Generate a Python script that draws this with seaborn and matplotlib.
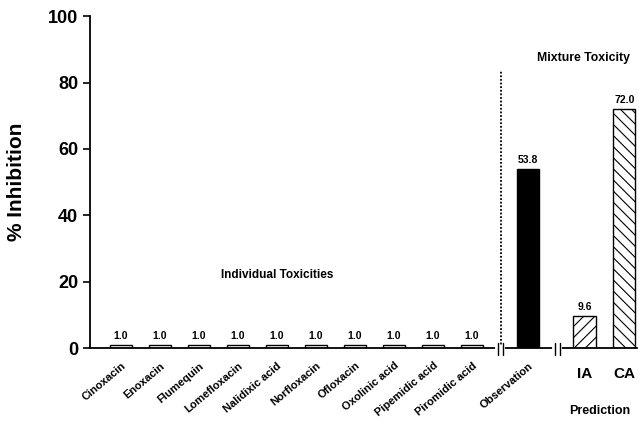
import numpy as np
import pandas as pd
import matplotlib
matplotlib.use("Agg")
import matplotlib.pyplot as plt
import seaborn as sns

sns.set_style("ticks")
plt.rcParams['font.family'] = ['Liberation Sans', 'DejaVu Sans']
plt.rcParams['font.weight'] = 'bold'
plt.rcParams['text.color'] = 'black'
plt.rcParams['axes.labelcolor'] = 'black'
plt.rcParams['xtick.color'] = 'black'
plt.rcParams['ytick.color'] = 'black'
plt.rcParams['axes.edgecolor'] = 'black'
plt.rcParams['hatch.linewidth'] = 0.8

# data
drugs = ['Cinoxacin', 'Enoxacin', 'Flumequin', 'Lomefloxacin', 'Nalidixic acid',
         'Norfloxacin', 'Ofloxacin', 'Oxolinic acid', 'Pipemidic acid', 'Piromidic acid']
drug_values = [1.0] * 10
mixture = ['Observation', 'IA', 'CA']
mixture_values = [53.8, 9.6, 72.0]

names = drugs + mixture
values = drug_values + mixture_values

# layout: unit spacing for drugs, wider gaps around the axis breaks
gap = 1.44
pos = list(np.arange(len(drugs), dtype=float))
pos.append(pos[-1] + gap)           # Observation
pos.append(pos[-1] + gap)           # IA
pos.append(pos[-1] + 1.02)          # CA
df = pd.DataFrame({'pos': pos, 'name': names, 'value': values})

fig = plt.figure(figsize=(6.39, 4.25), dpi=100)
ax = fig.add_axes([0.141, 0.181, 0.856, 0.781])

colors = ['white'] * len(drugs) + ['black', 'white', 'white']
sns.barplot(data=df, x='pos', y='value', hue='name', palette=colors, native_scale=True,
            width=0.57, edgecolor='black', linewidth=1.0, legend=False, ax=ax)

hatches = [''] * len(drugs) + ['', '///', '\\\\\\']
for bar, h in zip(ax.patches, hatches):
    bar.set_hatch(h)

for cont in ax.containers:
    ax.bar_label(cont, fmt='%.1f', padding=3, fontsize=7.5, fontweight='bold')

ax.set_xlim(-0.795, 13.23)
ax.set_ylim(0, 100)
ax.set_yticks([0, 20, 40, 60, 80, 100])
ax.tick_params(axis='y', labelsize=13, width=1.2, length=5)
ax.tick_params(axis='x', length=0, pad=9)
ax.set_ylabel('% Inhibition', fontsize=15, fontweight='bold', labelpad=16)
ax.set_xlabel('')
sns.despine(ax=ax)
ax.spines['left'].set_linewidth(1.3)
ax.spines['bottom'].set_linewidth(1.3)

ax.set_xticks(pos)
ax.set_xticklabels(names)
for i, lab in enumerate(ax.get_xticklabels()):
    if names[i] in ('IA', 'CA'):
        lab.set_fontsize(11)
        lab.set_rotation(0)
        lab.set_y(-0.02)
    else:
        lab.set_fontsize(8)
        lab.set_rotation(40)
        lab.set_ha('right')
        lab.set_va('top')
        lab.set_rotation_mode('anchor')
        lab.set_x(pos[i] + 0.2)

# separator between individual and mixture
sep = pos[len(drugs) - 1] + 0.74
ax.plot([sep, sep], [0, 83.4], ls=(0, (1.0, 1.0)), color='black', lw=1.3)

# axis break marks
for b in [sep - 0.02, pos[len(drugs)] + 0.74]:
    ax.plot([b - 0.07, b + 0.07], [0, 0], transform=ax.get_xaxis_transform(),
            color='white', lw=3, clip_on=False, zorder=5)
    for off in (-0.065, 0.065):
        ax.plot([b + off, b + off], [-0.02, 0.015], transform=ax.get_xaxis_transform(),
                color='black', lw=1.0, clip_on=False, zorder=6)

ax.text(4.0, 22, 'Individual Toxicities', fontsize=8.5, fontweight='bold', ha='center', va='center')
ax.text(11.85, 87.5, 'Mixture Toxicity', fontsize=8.8, fontweight='bold', ha='center', va='center')
ax.text(12.28, -0.19, 'Prediction', fontsize=9, fontweight='bold', ha='center', va='center',
        transform=ax.get_xaxis_transform())

fig.savefig('out.png', dpi=100)
